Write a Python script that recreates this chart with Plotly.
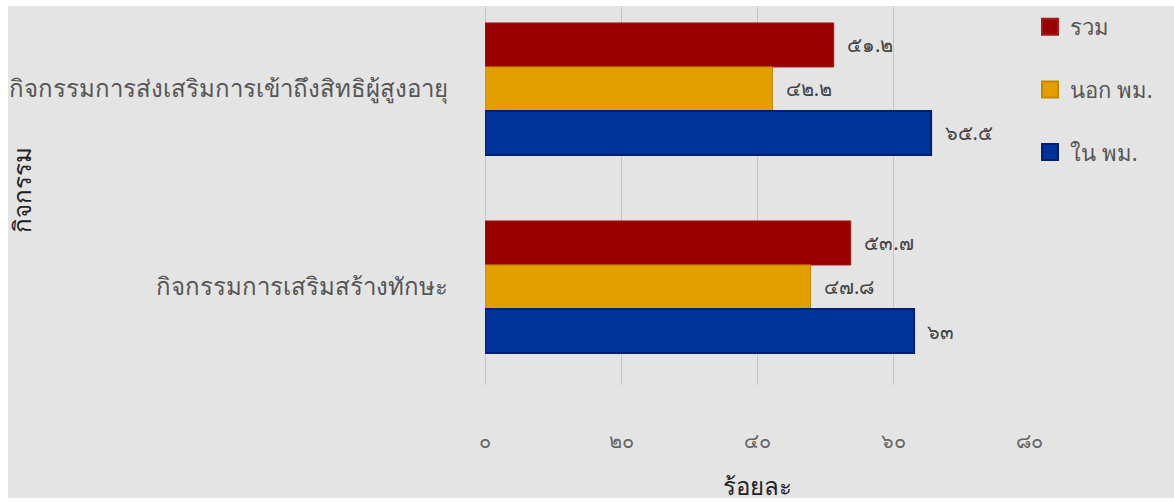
import plotly.graph_objects as go

# Activity categories (top to bottom) and percentages per group
categories = [
    "กิจกรรมการส่งเสริมการเข้าถึงสิทธิผู้สูงอายุ",
    "กิจกรรมการเสริมสร้างทักษะ",
]
series_names = ["รวม", "นอก พม.", "ใน พม."]
total_vals = [51.2, 53.7]
outside_vals = [42.2, 47.8]
inside_vals = [65.5, 63.0]

x_tickvals = [0, 20, 40, 60, 80]

THAI_DIGITS = str.maketrans("0123456789", "๐๑๒๓๔๕๖๗๘๙")


def thai_num(v):
    return f"{v:g}".translate(THAI_DIGITS)


series = [
    (series_names[0], total_vals, "#990000", "#a31a1a", 1),
    (series_names[1], outside_vals, "#e39e00", "#c48800", 1),
    (series_names[2], inside_vals, "#003399", "#001f6e", 2),
]

FONT = "Noto Sans, sans-serif"
W, H = 1174, 502
L, R, T, B = 485, 144, 6, 117
GRID = "#c4c4c4"

fig = go.Figure()
for name, vals, color, edge, lw in series:
    fig.add_trace(go.Bar(
        y=categories,
        x=vals,
        orientation="h",
        name=name,
        marker=dict(color=color, line=dict(color=edge, width=lw)),
        text=["\u00a0\u00a0" + thai_num(v) for v in vals],
        textposition="outside",
        textfont=dict(family=FONT, size=20, color="#444444"),
        cliponaxis=False,
        showlegend=False,
    ))

# Legend entries with larger square swatches
for i, (name, vals, color, edge, lw) in enumerate(series):
    fig.add_trace(go.Scatter(
        x=[None], y=[None],
        mode="markers",
        name=name,
        legendgroup=f"g{i}",
        marker=dict(symbol="square", size=20, color=color,
                    line=dict(color=edge, width=2)),
    ))

fig.update_layout(
    width=W, height=H,
    margin=dict(l=L, r=R, t=T, b=B, pad=0),
    paper_bgcolor="#ffffff",
    plot_bgcolor="#e4e4e4",
    barmode="group",
    bargap=0.333,
    bargroupgap=0,
    font=dict(family=FONT, color="#555555"),
    legend=dict(
        x=1.0, y=1.0, xanchor="left", yanchor="top",
        traceorder="grouped",
        tracegroupgap=31,
        font=dict(family=FONT, size=22, color="#555555"),
        bgcolor="rgba(0,0,0,0)",
    ),
    xaxis=dict(
        range=[0, 80.02],
        tickvals=x_tickvals,
        ticktext=[thai_num(v) for v in x_tickvals],
        tickfont=dict(family=FONT, size=20, color="#666666"),
        showgrid=True, gridcolor=GRID, gridwidth=1,
        zeroline=True, zerolinecolor=GRID, zerolinewidth=1,
        showline=False,
        ticks="", ticklabelstandoff=42,
    ),
    yaxis=dict(
        categoryorder="array",
        categoryarray=categories,
        range=[1.495, -0.419],
        tickfont=dict(family=FONT, size=24, color="#555555"),
        showgrid=False, zeroline=False, showline=False,
        ticks="", ticklabelstandoff=36,
    ),
    shapes=[
        # grey canvas behind the chart with a thin white border at top/left
        dict(type="rect", xref="paper", yref="paper", layer="below",
             x0=(8 - L) / (W - L - R), x1=(W - L) / (W - L - R),
             y0=-(498 - (H - B)) / (H - T - B), y1=1.0,
             fillcolor="#e4e4e4", line=dict(width=0)),
    ],
    annotations=[
        dict(text="กิจกรรม", xref="paper", yref="paper",
             x=0, y=(H - B - 190) / (H - T - B),
             xanchor="center", yanchor="middle",
             xshift=22 - L, textangle=-90, showarrow=False,
             font=dict(family=FONT, size=24, color="#222222")),
        dict(text="ร้อยละ", xref="paper", yref="paper",
             x=0.5, y=0, xanchor="center", yanchor="top",
             yshift=-82, showarrow=False,
             font=dict(family=FONT, size=24, color="#222222")),
    ],
)

fig.write_html("out.html")
